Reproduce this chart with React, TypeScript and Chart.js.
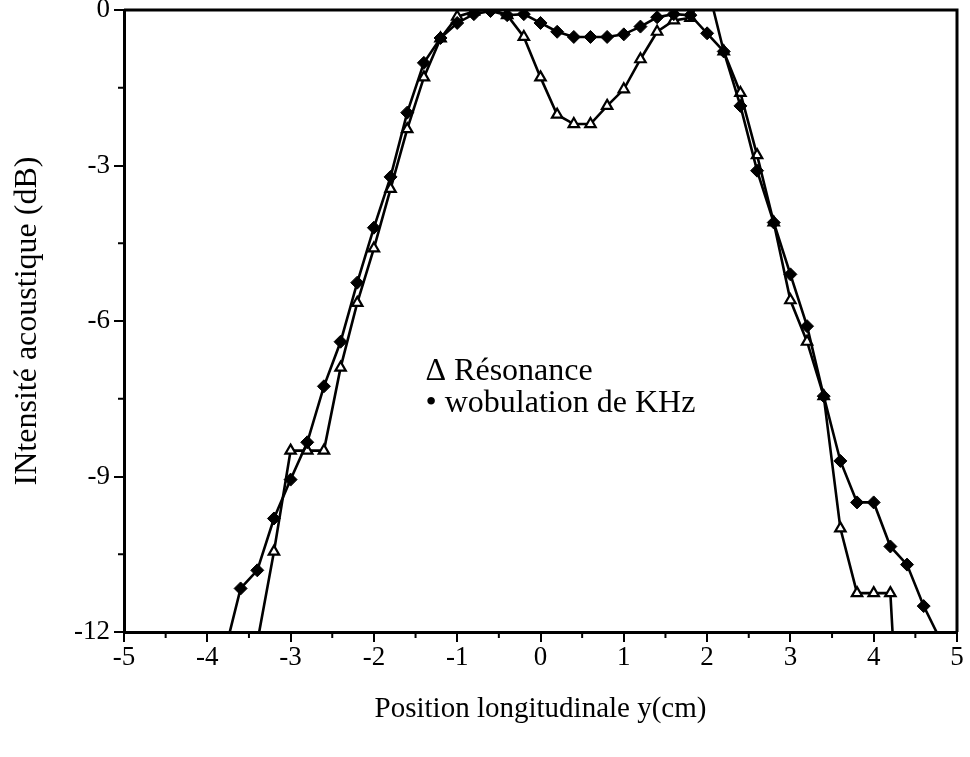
import React, { useEffect, useRef } from "react";
import { Chart, registerables } from "chart.js";

Chart.register(...registerables);

// Position longitudinale (cm) / Intensité acoustique (dB)
const resonanceX = [-3.4, -3.2, -3.0, -2.8, -2.6, -2.4, -2.2, -2.0, -1.8, -1.6, -1.4, -1.2, -1.0, -0.8, -0.6, -0.4, -0.2, 0, 0.2, 0.4, 0.6, 0.8, 1.0, 1.2, 1.4, 1.6, 1.8, 2.0, 2.2, 2.4, 2.6, 2.8, 3.0, 3.2, 3.4, 3.6, 3.8, 4.0, 4.2, 4.4];
const resonanceY = [-12.2, -10.45, -8.5, -8.5, -8.5, -6.9, -5.65, -4.6, -3.45, -2.3, -1.3, -0.55, -0.13, -0.03, 0.02, -0.1, -0.52, -1.3, -2.02, -2.2, -2.2, -1.85, -1.53, -0.95, -0.42, -0.2, -0.15, 0.5, -0.8, -1.6, -2.8, -4.1, -5.6, -6.4, -7.45, -10.0, -11.25, -11.25, -11.25, -17];

const wobulationX = [-3.8, -3.6, -3.4, -3.2, -3.0, -2.8, -2.6, -2.4, -2.2, -2.0, -1.8, -1.6, -1.4, -1.2, -1.0, -0.8, -0.6, -0.4, -0.2, 0, 0.2, 0.4, 0.6, 0.8, 1.0, 1.2, 1.4, 1.6, 1.8, 2.0, 2.2, 2.4, 2.6, 2.8, 3.0, 3.2, 3.4, 3.6, 3.8, 4.0, 4.2, 4.4, 4.6, 4.8];
const wobulationY = [-12.45, -11.16, -10.81, -9.81, -9.06, -8.34, -7.26, -6.4, -5.26, -4.2, -3.22, -1.98, -1.02, -0.54, -0.25, -0.08, -0.02, -0.1, -0.08, -0.25, -0.42, -0.52, -0.52, -0.52, -0.47, -0.32, -0.14, -0.08, -0.1, -0.45, -0.8, -1.85, -3.1, -4.1, -5.1, -6.1, -7.45, -8.7, -9.5, -9.5, -10.35, -10.7, -11.5, -12.15];

const xMinorTicks = [-4.5, -3.5, -2.5, -1.5, -0.5, 0.5, 1.5, 2.5, 3.5, 4.5];
const yMinorTicks = [-1.5, -4.5, -7.5, -10.5];

const legendLines = ["\u0394 R\u00e9sonance", "\u2022 wobulation de KHz"];
const legendAnchorX = -1.38;
const legendAnchorY = [-7.13, -7.76];

const xTitle = "Position longitudinale y(cm)";
const yTitle = "INtensit\u00e9 acoustique (dB)";

const FONT = "'Liberation Serif', 'Times New Roman', serif";

export default function App() {
  const ref = useRef<HTMLCanvasElement>(null);

  useEffect(() => {
    const canvas = ref.current;
    if (!canvas) return;

    const framePlugin = {
      id: "frameAndExtras",
      afterDraw(chart: any) {
        const { ctx, chartArea } = chart;
        const xs = chart.scales.x;
        const ys = chart.scales.y;
        ctx.save();
        ctx.strokeStyle = "#000";
        ctx.lineWidth = 3;
        ctx.beginPath();
        ctx.moveTo(chartArea.left, chartArea.top);
        ctx.lineTo(chartArea.right, chartArea.top);
        ctx.lineTo(chartArea.right, chartArea.bottom);
        ctx.stroke();
        ctx.lineWidth = 2;
        ctx.beginPath();
        xMinorTicks.forEach((v) => {
          const px = xs.getPixelForValue(v);
          ctx.moveTo(px, chartArea.bottom);
          ctx.lineTo(px, chartArea.bottom + 6);
        });
        yMinorTicks.forEach((v) => {
          const py = ys.getPixelForValue(v);
          ctx.moveTo(chartArea.left, py);
          ctx.lineTo(chartArea.left - 6, py);
        });
        ctx.stroke();
        ctx.fillStyle = "#000";
        ctx.font = `32px ${FONT}`;
        ctx.textAlign = "left";
        ctx.textBaseline = "alphabetic";
        legendLines.forEach((t, i) => {
          ctx.fillText(t, xs.getPixelForValue(legendAnchorX), ys.getPixelForValue(legendAnchorY[i]));
        });
        ctx.restore();
      },
    };

    const chart = new Chart(canvas, {
      type: "line",
      data: {
        datasets: [
          {
            label: "Résonance",
            data: resonanceX.map((x, i) => ({ x, y: resonanceY[i] })),
            borderColor: "#000",
            borderWidth: 2.6,
            backgroundColor: "#fff",
            pointStyle: "triangle",
            pointRadius: 6,
            pointBorderWidth: 2.2,
            pointBorderColor: "#000",
            pointBackgroundColor: "#fff",
            tension: 0,
            order: 2,
          },
          {
            label: "wobulation de KHz",
            data: wobulationX.map((x, i) => ({ x, y: wobulationY[i] })),
            borderColor: "#000",
            borderWidth: 2.6,
            backgroundColor: "#000",
            pointStyle: "rectRot",
            pointRadius: 6.5,
            pointBorderWidth: 1,
            pointBorderColor: "#000",
            pointBackgroundColor: "#000",
            tension: 0,
            order: 1,
          },
        ],
      },
      options: {
        animation: false,
        responsive: true,
        maintainAspectRatio: false,
        devicePixelRatio: 1,
        layout: { padding: { top: 10, right: 13, left: 0, bottom: 0 } },
        plugins: {
          legend: { display: false },
          tooltip: { enabled: false },
        },
        scales: {
          x: {
            type: "linear",
            position: "bottom",
            min: -5,
            max: 5,
            afterFit: (s: any) => {
              s.height = 125;
              s.paddingLeft = 0;
              s.paddingRight = 0;
            },
            ticks: {
              stepSize: 1,
              color: "#000",
              padding: 0,
              maxRotation: 0,
              font: { family: FONT, size: 27 },
              callback: (v: any) => String(v),
            },
            grid: {
              drawOnChartArea: false,
              drawTicks: true,
              tickLength: 10,
              color: "#000",
              lineWidth: 2,
            },
            border: { display: true, color: "#000", width: 3 },
            title: {
              display: true,
              text: xTitle,
              color: "#000",
              font: { family: FONT, size: 29 },
              padding: { top: 0, bottom: 30 },
            },
          },
          y: {
            type: "linear",
            position: "left",
            min: -12,
            max: 0,
            afterFit: (s: any) => {
              s.width = 124;
              s.paddingTop = 0;
              s.paddingBottom = 0;
            },
            ticks: {
              stepSize: 3,
              color: "#000",
              padding: 4,
              font: { family: FONT, size: 27 },
              callback: (v: any) => String(v),
            },
            grid: {
              drawOnChartArea: false,
              drawTicks: true,
              tickLength: 10,
              color: "#000",
              lineWidth: 2,
            },
            border: { display: true, color: "#000", width: 3 },
            title: {
              display: true,
              text: yTitle,
              color: "#000",
              font: { family: FONT, size: 32 },
              padding: { top: 8, bottom: 0 },
            },
          },
        },
      },
      plugins: [framePlugin],
    });

    return () => chart.destroy();
  }, []);

  return (
    <div style={{ position: "fixed", left: 0, top: 0, width: 970, height: 757, background: "#fff" }}>
      <canvas ref={ref} />
    </div>
  );
}
